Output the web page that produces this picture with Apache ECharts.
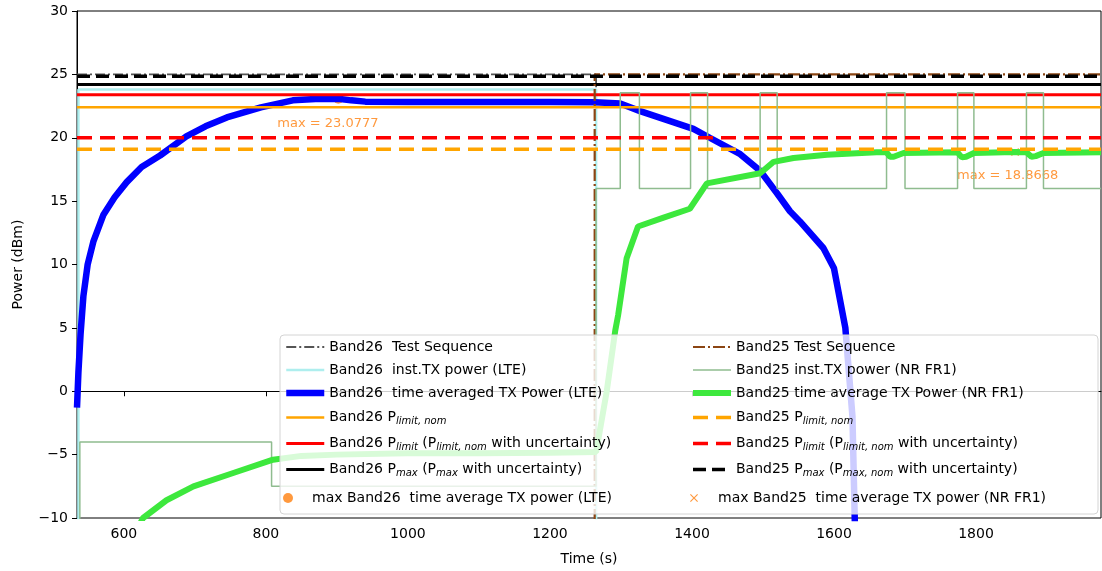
<!DOCTYPE html>
<html><head><meta charset="utf-8">
<script src="https://cdn.jsdelivr.net/npm/echarts@6/dist/echarts.min.js"></script>
<style>html,body{margin:0;padding:0;background:#fff}#c{width:1102px;height:571px}</style>
</head><body><div id="c"></div>
<script>
// ---------- data ----------
const xMin = 534, xMax = 1976;
const xTicks = [600, 800, 1000, 1200, 1400, 1600, 1800];
const yMin = -10, yMax = 30, yStep = 5;

// Band26 (LTE)
const b26TestSeq = [[534, 25], [1265, 25], [1265, -12]];
const b26Inst = [[536, -12], [536, 23.8], [1265, 23.8], [1265, -12]];
const b26Avg = [[534, -1.3], [536, 1.5], [539, 4.5], [543, 7.5], [549, 10], [557, 11.8], [571, 13.9], [587, 15.3],
  [604, 16.5], [625, 17.7], [651, 18.6], [688, 20.1], [715, 20.9], [745, 21.6], [793, 22.4], [838, 22.95],
  [870, 23.05], [902, 23.0777], [920, 22.95], [940, 22.85], [1000, 22.82], [1100, 22.82], [1200, 22.82],
  [1263, 22.8], [1299, 22.7], [1327, 22.1], [1402, 20.7], [1425, 20.0], [1468, 18.7], [1496, 17.4],
  [1520, 15.6], [1538, 14.2], [1552, 13.4], [1585, 11.3], [1600, 9.7], [1616, 5], [1626, -2], [1630, -12]];
const b26PlimNom = 22.4, b26Plim = 23.4, b26Pmax = 24.2;
const b26MaxPt = [[902, 23.0777]];

// Band25 (NR FR1)
const b25TestSeq = [[534, -12], [1263, -12], [1263, 25], [1976, 25]];
const b25Inst = [[538, -12], [538, -4], [808, -4], [808, -7.5], [1265, -7.5], [1265, 16], [1299, 16], [1299, 23.55],
  [1326, 23.55], [1326, 16], [1398, 16], [1398, 23.55], [1422, 23.55], [1422, 16], [1496, 16], [1496, 23.55],
  [1520, 23.55], [1520, 16], [1674, 16], [1674, 23.55], [1700, 23.55], [1700, 16], [1774, 16], [1774, 23.55],
  [1797, 23.55], [1797, 16], [1871, 16], [1871, 23.55], [1895, 23.55], [1895, 16], [1976, 16]];
const b25Avg = [[590, -14], [627, -10], [660, -8.6], [698, -7.5], [754, -6.45], [810, -5.4], [850, -5.1],
  [900, -5.0], [1000, -4.9], [1100, -4.9], [1200, -4.85], [1265, -4.8], [1280, 0], [1292, 4.8], [1296, 6],
  [1308, 10.5], [1324, 13.0], [1360, 13.7], [1397, 14.4], [1421, 16.4], [1496, 17.2], [1515, 18.1],
  [1543, 18.4], [1590, 18.65], [1660, 18.85], [1674, 18.85], [1679, 18.5], [1684, 18.5], [1698, 18.8],
  [1774, 18.85], [1780, 18.45], [1786, 18.5], [1797, 18.8], [1855, 18.8668], [1871, 18.85], [1878, 18.5],
  [1884, 18.55], [1895, 18.8], [1976, 18.85]];
const b25PlimNom = 19.1, b25Plim = 20.0, b25Pmax = 24.85;
const b25MaxPt = [[1855, 18.8668]];

const names26 = ['Band26  Test Sequence', 'Band26  inst.TX power (LTE)', 'Band26  time averaged TX Power (LTE)',
  'Band26 P_{limit, nom}', 'Band26 P_{limit} (P_{limit, nom} with uncertainty)', 'Band26 P_{max} (P_{max} with uncertainty)',
  'max Band26  time average TX power (LTE)'];
const names25 = ['Band25 Test Sequence', 'Band25 inst.TX power (NR FR1)', 'Band25 time average TX Power (NR FR1)',
  'Band25 P_{limit, nom}', 'Band25 P_{limit} (P_{limit, nom} with uncertainty)', 'Band25 P_{max} (P_{max, nom} with uncertainty)',
  'max Band25  time average TX power (NR FR1)'];

// ---------- chart ----------
const FONT = 'DejaVu Sans';
const hline = v => [[xMin, v], [xMax, v]];
function line(name, data, color, width, type) {
  return { name, type: 'line', data, symbol: 'none', showSymbol: false, animation: false, silent: true,
    lineStyle: { color, width, type: type || 'solid' }, itemStyle: { color } };
}
const ORANGE = '#ff7f0e';
const xSym = 'path://M0,1 L1,0 L5,4 L9,0 L10,1 L6,5 L10,9 L9,10 L5,6 L1,10 L0,9 L4,5 Z';

const series = [
  line(names26[0], b26TestSeq, '#555555', 1.8, [10, 3, 2, 3]),
  line(names26[1], b26Inst, '#aeeeee', 2.5),
  line(names26[2], b26Avg, '#0000ff', 6.5),
  line(names26[3], hline(b26PlimNom), '#ffa500', 2.5),
  line(names26[4], hline(b26Plim), '#ff0000', 3),
  line(names26[5], hline(b26Pmax), '#000000', 3),
  { name: names26[6], type: 'scatter', data: b26MaxPt, symbol: 'circle', symbolSize: 10, animation: false, silent: true,
    itemStyle: { color: ORANGE },
    label: { show: true, position: [-56, 30], align: 'left', verticalAlign: 'middle', color: ORANGE, fontSize: 13,
      fontFamily: FONT, formatter: p => 'max = ' + p.value[1] } },
  line(names25[0], b25TestSeq, '#8b4513', 2.2, [12, 3, 2, 3]),
  line(names25[1], b25Inst, '#8fbc8f', 1.5),
  line(names25[2], b25Avg, '#3de83d', 6),
  line(names25[3], hline(b25PlimNom), '#ffa500', 3.5, [15, 8]),
  line(names25[4], hline(b25Plim), '#ff0000', 3.5, [15, 8]),
  line(names25[5], hline(b25Pmax), '#000000', 3.5, [13, 6]),
  { name: names25[6], type: 'scatter', data: b25MaxPt, symbol: xSym, symbolSize: 8, animation: false, silent: true,
    itemStyle: { color: ORANGE },
    label: { show: true, position: [-54, 28], align: 'left', verticalAlign: 'middle', color: ORANGE, fontSize: 13,
      fontFamily: FONT, formatter: p => 'max = ' + p.value[1] } }
];

const fmtName = n => n.split(/(_\{[^}]*\})/).map(s => s.startsWith('_{') ? '{sub|' + s.slice(2, -1) + '}' : (s ? '{n|' + s + '}' : '')).join('');
const legTextStyle = { fontSize: 14, fontFamily: FONT, color: '#000',
  rich: { n: { fontSize: 14, fontFamily: FONT, color: '#000' },
          sub: { fontSize: 10, fontFamily: FONT, fontStyle: 'italic', color: '#000', lineHeight: 14, padding: [7, 0, 0, 0] } } };
function legend(data, left, top, opts) {
  return Object.assign({ data, left, top, orient: 'vertical', itemWidth: 38, itemHeight: 14, itemGap: 9,
    selectedMode: false, formatter: fmtName, textStyle: legTextStyle, padding: 0, z: 6,
    lineStyle: { width: 'inherit' }, itemStyle: { opacity: 0 } }, opts || {});
}

const option = {
  backgroundColor: '#fff',
  animation: false,
  textStyle: { fontFamily: FONT },
  grid: { left: 77, right: 1, top: 11, bottom: 49, show: true, borderColor: '#000', borderWidth: 1, containLabel: false },
  xAxis: { type: 'value', min: xMin, max: xMax, name: 'Time (s)', nameLocation: 'middle', nameGap: 34,
    nameTextStyle: { fontSize: 14, color: '#000', fontFamily: FONT },
    axisLine: { show: true, lineStyle: { color: '#000', width: 1 } },
    axisTick: { show: true, length: 5, lineStyle: { color: '#000' }, customValues: xTicks },
    axisLabel: { customValues: xTicks, fontSize: 14, color: '#000', margin: 9, fontFamily: FONT, formatter: v => String(v) },
    splitLine: { show: false } },
  yAxis: { type: 'value', min: yMin, max: yMax, interval: yStep, name: 'Power (dBm)', nameLocation: 'middle', nameGap: 52,
    nameTextStyle: { fontSize: 14, color: '#000', fontFamily: FONT },
    axisLine: { show: true, lineStyle: { color: '#000', width: 1 } },
    axisTick: { show: true, length: 5, lineStyle: { color: '#000' } },
    axisLabel: { fontSize: 14, color: '#000', margin: 9, fontFamily: FONT,
      formatter: v => v < 0 ? '\u2212' + Math.abs(v) : String(v) },
    splitLine: { show: false } },
  legend: [
    legend(names26.slice(0, 6), 283, 340),
    legend([names26[6]], 283, 491, { itemHeight: 10, icon: 'circle', itemStyle: {} }),
    legend(names25.slice(0, 6), 690, 340),
    legend([names25[6]], 690, 491, { itemHeight: 8, itemStyle: {} })
  ],
  graphic: [{ type: 'rect', z: 5, silent: true, shape: { x: 280, y: 335, width: 818, height: 179, r: 4 },
    style: { fill: 'rgba(255,255,255,0.8)', stroke: '#d4d4d4', lineWidth: 1 } }],
  series
};
const chart = echarts.init(document.getElementById('c'), null, { renderer: 'canvas' });
chart.setOption(option);
</script></body></html>
